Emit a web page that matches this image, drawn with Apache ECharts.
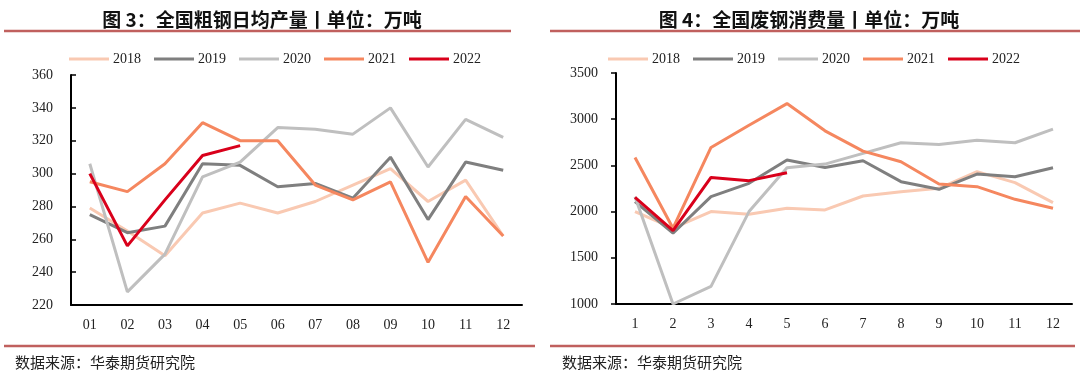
<!DOCTYPE html>
<html>
<head>
<meta charset="utf-8">
<script src="https://cdn.jsdelivr.net/npm/echarts@6/dist/echarts.min.js"></script>
<style>
  html, body { margin: 0; padding: 0; background: #fff; }
  #chart { width: 1080px; height: 377px; }
</style>
</head>
<body>
<div id="chart"></div>
<script>
// Data
const years = ['2018', '2019', '2020', '2021', '2022'];
const colors = ['#F9C9B2', '#7F7F7F', '#BFBFBF', '#F5875F', '#D9001B'];

// Figure 3: daily crude steel output (10k t)
const monthsLeft = ['01', '02', '03', '04', '05', '06', '07', '08', '09', '10', '11', '12'];
const crude2018 = [279, 265, 250, 276, 282, 276, 283, 293, 303, 283, 296, 262];
const crude2019 = [275, 264, 268, 306, 305, 292, 294, 285, 310, 272, 307, 302];
const crude2020 = [306, 228, 251, 298, 307, 328, 327, 324, 340, 304, 333, 322];
const crude2021 = [295, 289, 306, 331, 320, 320, 293, 284, 295, 246, 286, 262];
const crude2022 = [300, 256, 284, 311, 317];

// Figure 4: scrap consumption (10k t)
const monthsRight = ['1', '2', '3', '4', '5', '6', '7', '8', '9', '10', '11', '12'];
const scrap2018 = [2000, 1820, 2000, 1971, 2036, 2018, 2169, 2216, 2252, 2432, 2313, 2097];
const scrap2019 = [2108, 1766, 2162, 2306, 2558, 2478, 2550, 2324, 2241, 2406, 2378, 2475];
const scrap2020 = [2162, 1000, 1191, 2000, 2475, 2514, 2630, 2745, 2727, 2773, 2745, 2892];
const scrap2021 = [2586, 1820, 2694, 2935, 3169, 2874, 2655, 2540, 2299, 2270, 2133, 2036];
const scrap2022 = [2155, 1795, 2370, 2335, 2421];

const crudeData = [crude2018, crude2019, crude2020, crude2021, crude2022];
const scrapData = [scrap2018, scrap2019, scrap2020, scrap2021, scrap2022];

const serif = '"Liberation Serif", "Times New Roman", serif';
const cjk = '"Noto Sans CJK SC", sans-serif';
const ruleColor = '#C0605E';

const chart = echarts.init(document.getElementById('chart'));

function makeSeries(dataSets, axisIndex) {
  return dataSets.map((d, i) => ({
    name: years[i],
    type: 'line',
    xAxisIndex: axisIndex,
    yAxisIndex: axisIndex,
    data: d,
    symbol: 'none',
    z: i === 4 ? 5 : 2,
    lineStyle: { color: colors[i], width: 3 },
    itemStyle: { color: colors[i] }
  }));
}

function makeLegend(left) {
  return {
    left: left,
    top: 47,
    icon: 'rect',
    itemWidth: 40,
    itemHeight: 3,
    itemGap: 13,
    data: years,
    textStyle: { fontFamily: serif, fontSize: 14, color: '#222', padding: [0, 0, 0, -1] }
  };
}

const axisLabelStyle = { fontFamily: serif, fontSize: 14, color: '#222' };

const option = {
  animation: false,
  color: colors,
  title: [
    {
      text: '图 3：全国粗钢日均产量丨单位：万吨',
      left: 257, top: 5, textAlign: 'center',
      textStyle: { fontFamily: cjk, fontSize: 19, fontWeight: 'bold', color: '#111' }
    },
    {
      text: '图 4：全国废钢消费量丨单位：万吨',
      left: 804, top: 5, textAlign: 'center',
      textStyle: { fontFamily: cjk, fontSize: 19, fontWeight: 'bold', color: '#111' }
    }
  ],
  legend: [makeLegend(64), makeLegend(603)],
  grid: [
    { left: 71, top: 75, width: 451, height: 230 },
    { left: 616, top: 73, width: 456, height: 231 }
  ],
  xAxis: [
    {
      gridIndex: 0, type: 'category', data: monthsLeft, boundaryGap: true,
      axisLine: { lineStyle: { color: '#000', width: 2 } },
      axisTick: { inside: true, length: 5, lineStyle: { color: '#000', width: 1.5 } },
      axisLabel: Object.assign({ margin: 13 }, axisLabelStyle)
    },
    {
      gridIndex: 1, type: 'category', data: monthsRight, boundaryGap: true,
      axisLine: { lineStyle: { color: '#000', width: 2 } },
      axisTick: { inside: false, length: 5, lineStyle: { color: '#000', width: 1.5 } },
      axisLabel: Object.assign({ margin: 13 }, axisLabelStyle)
    }
  ],
  yAxis: [
    {
      gridIndex: 0, type: 'value', min: 220, max: 360, interval: 20,
      splitLine: { show: false },
      axisLine: { show: true, lineStyle: { color: '#000', width: 2 } },
      axisTick: { show: true, inside: true, length: 5, lineStyle: { color: '#000', width: 1.5 } },
      axisLabel: Object.assign({ margin: 18, formatter: v => String(v) }, axisLabelStyle)
    },
    {
      gridIndex: 1, type: 'value', min: 1000, max: 3500, interval: 500,
      splitLine: { show: false },
      axisLine: { show: true, lineStyle: { color: '#000', width: 2 } },
      axisTick: { show: true, inside: false, length: 5, lineStyle: { color: '#000', width: 1.5 } },
      axisLabel: Object.assign({ margin: 18, formatter: v => String(v) }, axisLabelStyle)
    }
  ],
  series: makeSeries(crudeData, 0).concat(makeSeries(scrapData, 1)),
  graphic: [
    { type: 'line', shape: { x1: 4, y1: 31, x2: 511, y2: 31 }, style: { stroke: ruleColor, lineWidth: 2.5 } },
    { type: 'line', shape: { x1: 550, y1: 31, x2: 1080, y2: 31 }, style: { stroke: ruleColor, lineWidth: 2.5 } },
    { type: 'line', shape: { x1: 4, y1: 346, x2: 535, y2: 346 }, style: { stroke: ruleColor, lineWidth: 2.5 } },
    { type: 'line', shape: { x1: 550, y1: 346, x2: 1075, y2: 346 }, style: { stroke: ruleColor, lineWidth: 2.5 } },
    { type: 'text', left: 15, top: 355, style: { text: '数据来源：华泰期货研究院', font: '15px "Noto Sans CJK SC", sans-serif', fill: '#222' } },
    { type: 'text', left: 562, top: 355, style: { text: '数据来源：华泰期货研究院', font: '15px "Noto Sans CJK SC", sans-serif', fill: '#222' } }
  ]
};

chart.setOption(option);
</script>
</body>
</html>
